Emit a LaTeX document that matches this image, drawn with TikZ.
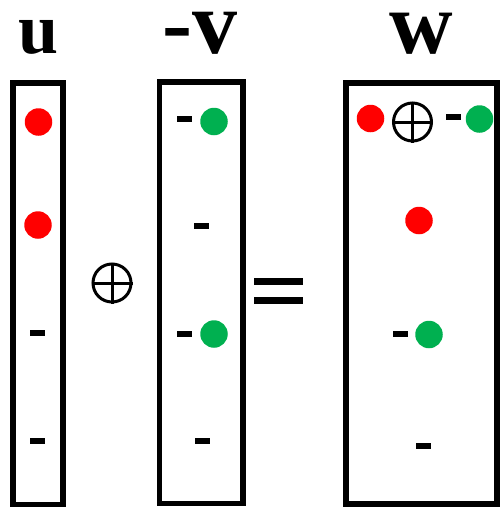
\documentclass[tikz,border=0pt]{standalone}
\usepackage{fontspec}
\setmainfont{Liberation Serif}
\definecolor{dotred}{RGB}{255,0,0}
\definecolor{dotgreen}{RGB}{0,176,80}
\begin{document}
\begin{tikzpicture}[x=1pt,y=-1pt,
  frame/.style={draw=black,line width=5.5pt,rectangle,inner sep=0pt},
  reddot/.style={circle,fill=dotred,minimum size=27.5pt,inner sep=0pt},
  greendot/.style={circle,fill=dotgreen,minimum size=27.5pt,inner sep=0pt},
  minus/.style={rectangle,fill=black,minimum width=15pt,minimum height=6pt,inner sep=0pt},
  title/.style={anchor=base,inner sep=0pt,text height=1ex,text depth=0pt},
  oplus/.style={circle,draw=black,line width=3pt,minimum size=38pt,inner sep=0pt},
  bar/.style={rectangle,fill=black,minimum width=49pt,minimum height=7pt,inner sep=0pt}
]
\useasboundingbox (0,0) rectangle (499,507);

% column titles
\node[title,font=\fontsize{72}{72}\selectfont\bfseries] (tu) at (39,53) {u};
\node[title,font=\fontsize{90}{90}\selectfont\bfseries] (tv) at (200,53) {-v};
\node[title,font=\fontsize{88}{88}\selectfont\bfseries] (tw) at (421,53) {w};

% frames
\node[frame,minimum width=50pt,minimum height=421.5pt] (ubox) at (38,293.75) {};
\node[frame,minimum width=83.5pt,minimum height=421.5pt] (vbox) at (201.25,292.75) {};
\node[frame,minimum width=151pt,minimum height=421pt] (wbox) at (421.5,293.5) {};

% column u
\node[reddot] (u1) at (38.5,122) {};
\node[reddot] (u2) at (38,225) {};
\node[minus] (u3) at (37.5,333) {};
\node[minus] (u4) at (37.5,440.5) {};

% column -v
\node[minus] (v1m) at (184.5,119) {};
\node[greendot] (v1) at (214,121.5) {};
\node[minus] (v2) at (201.5,226) {};
\node[minus] (v3m) at (184.5,334) {};
\node[greendot] (v3) at (214,334) {};
\node[minus] (v4) at (202.5,440.5) {};

% column w
\node[reddot] (w1r) at (370.5,118.5) {};
\node[oplus] (w1o) at (412.5,122) {};
\draw[line width=3pt] (w1o.north) -- (w1o.south) (w1o.west) -- (w1o.east);
\node[minus] (w1m) at (453.5,117) {};
\node[greendot] (w1g) at (479.5,119) {};
\node[reddot] (w2) at (419,220.5) {};
\node[minus] (w3m) at (400.5,334) {};
\node[greendot] (w3) at (429,334.5) {};
\node[minus] (w4) at (423.5,446) {};

% operators between the frames
\node[oplus] (op) at (112,283) {};
\draw[line width=3pt] (op.north) -- (op.south) (op.west) -- (op.east);
\node[bar] (eq1) at (278.5,281.3) {};
\node[bar] (eq2) at (278.5,300.3) {};
\end{tikzpicture}
\end{document}
